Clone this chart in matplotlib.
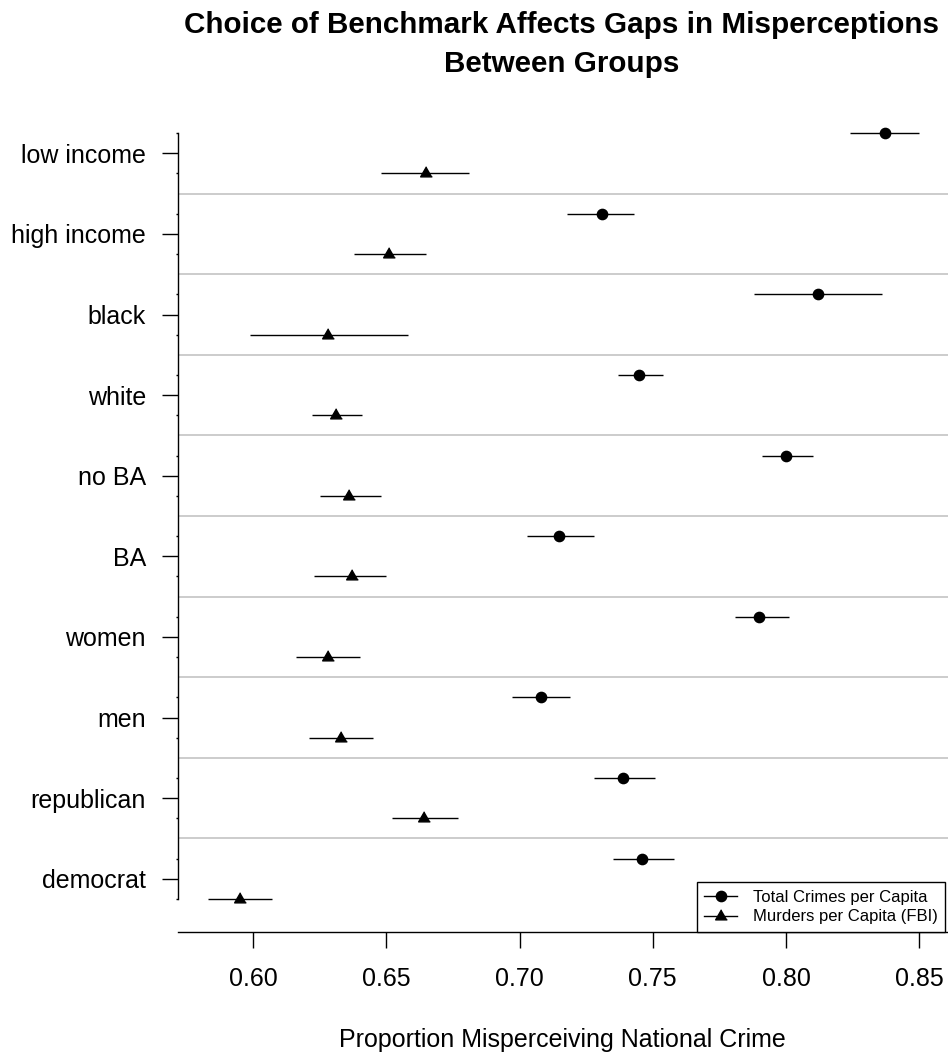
import matplotlib
matplotlib.use("Agg")
import matplotlib.pyplot as plt
from matplotlib.ticker import FixedLocator, NullFormatter
import numpy as np

plt.rcParams['font.family'] = ['Liberation Sans', 'DejaVu Sans']

# Groups, top to bottom
groups = ["low income", "high income", "black", "white", "no BA",
          "BA", "women", "men", "republican", "democrat"]

# Benchmark: total crimes per capita (point estimate and interval)
total = [0.837, 0.731, 0.812, 0.745, 0.800, 0.715, 0.790, 0.708, 0.739, 0.746]
total_lo = [0.824, 0.718, 0.788, 0.737, 0.791, 0.703, 0.781, 0.697, 0.728, 0.735]
total_hi = [0.850, 0.743, 0.836, 0.754, 0.810, 0.728, 0.801, 0.719, 0.751, 0.758]

# Benchmark: murders per capita (FBI)
murder = [0.665, 0.651, 0.628, 0.631, 0.636, 0.637, 0.628, 0.633, 0.664, 0.595]
murder_lo = [0.648, 0.638, 0.599, 0.622, 0.625, 0.623, 0.616, 0.621, 0.652, 0.583]
murder_hi = [0.681, 0.665, 0.658, 0.641, 0.648, 0.650, 0.640, 0.645, 0.677, 0.607]

xticks = [0.60, 0.65, 0.70, 0.75, 0.80, 0.85]

W, H = 948, 1055
fig = plt.figure(figsize=(W / 100, H / 100), dpi=100)
ax = fig.add_axes([177.5 / W, (H - 932) / H, 1 - 177.5 / W, (932 - 110) / H])

n = len(groups)
centers = np.arange(n, 0, -1).astype(float)   # low income at top
off = 0.25
y_tot = centers + off
y_mur = centers - off

# filled triangle whose centre sits a little below mid-height, like R's pch 17
tri = [(0, 1), (-0.866, -0.5), (0.866, -0.5)]
tri_ms = 13.5 * 0.72

# separators between groups
for c in centers[:-1]:
    ax.axhline(c - 0.5, color="#BEBEBE", lw=1.1, zorder=1)

t = np.array(total)
ax.errorbar(t, y_tot,
            xerr=[t - np.array(total_lo), np.array(total_hi) - t],
            fmt="o", color="black", ms=7.4, elinewidth=1.0, capsize=0,
            zorder=3)
m = np.array(murder)
ax.errorbar(m, y_mur,
            xerr=[m - np.array(murder_lo), np.array(murder_hi) - m],
            fmt="none", ecolor="black", elinewidth=1.0, capsize=0, zorder=3)
ax.plot(m, y_mur, linestyle="none", marker=tri, ms=tri_ms,
        color="black", zorder=4)

# legend handles
h1, = ax.plot([], [], color="black", lw=1.0, marker="o", ms=7.4)
h2, = ax.plot([], [], color="black", lw=1.0, marker=tri, ms=tri_ms)

ax.set_xlim(0.60 - 75.5 / 2665, 0.60 + (W - 253) / 2665)
ax.set_ylim(1 - (932 - 878.7) / 80.6, 10 + (153.3 - 110) / 80.6)

for s in ["top", "right"]:
    ax.spines[s].set_visible(False)
ax.spines["left"].set_bounds(y_mur[-1], y_tot[0])
ax.spines["left"].set_linewidth(1.0)
ax.spines["bottom"].set_linewidth(1.0)

ax.set_xticks(xticks)
ax.set_xticklabels([f"{v:.2f}" for v in xticks])
ax.tick_params(axis="x", length=11.2, width=1.0, labelsize=18, pad=14)

ax.set_yticks(centers)
ax.set_yticklabels(groups)
ax.tick_params(axis="y", which="major", length=11.2, width=1.0,
               labelsize=18, pad=11.5)
ax.yaxis.set_minor_locator(FixedLocator(np.concatenate([y_tot, y_mur])))
ax.yaxis.set_minor_formatter(NullFormatter())
ax.tick_params(axis="y", which="minor", length=1.8, width=1.0)

leg = fig.legend([h1, h2], ["Total Crimes per Capita", "Murders per Capita (FBI)"],
                 loc="lower right", bbox_to_anchor=(945 / W, (H - 932) / H),
                 bbox_transform=fig.transFigure, fontsize=12, frameon=True,
                 fancybox=False, edgecolor="black", framealpha=1,
                 borderaxespad=0, borderpad=0.45, handlelength=1.95,
                 handletextpad=0.95, labelspacing=0.28)
leg.get_frame().set_linewidth(1.0)

cx = 562 / W
fig.text(cx, (H - 33.3) / H, "Choice of Benchmark Affects Gaps in Misperceptions",
         ha="center", va="baseline", fontsize=21.3, fontweight="bold")
fig.text(cx, (H - 71.7) / H, "Between Groups",
         ha="center", va="baseline", fontsize=21.3, fontweight="bold")
fig.text(cx, (H - 1046.7) / H, "Proportion Misperceiving National Crime",
         ha="center", va="baseline", fontsize=18)

fig.savefig("out.png", dpi=100)
